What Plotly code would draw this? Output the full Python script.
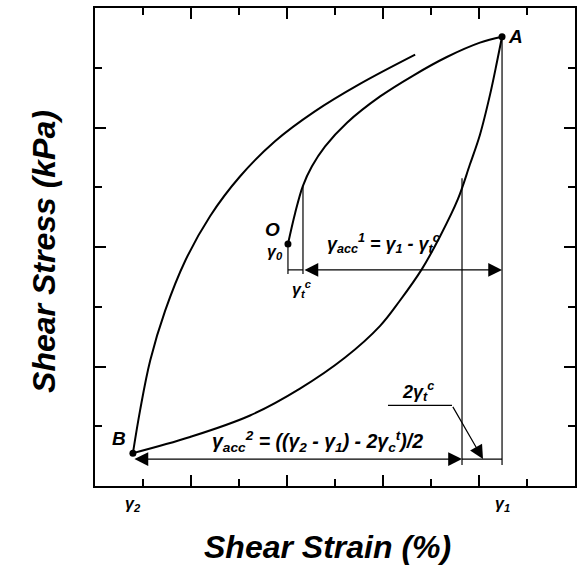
import plotly.graph_objects as go

# Loading branch from the initial state O up to the reversal point A
virgin_x = [4.02, 4.17, 4.33, 4.52, 4.79, 5.25, 5.94, 6.63, 7.33, 8.02, 8.48]
virgin_y = [4.05, 4.57, 5.02, 5.35, 5.68, 6.08, 6.52, 6.87, 7.18, 7.42, 7.52]

# Unloading branch from A down to B
unload_x = [8.48, 8.375, 8.23, 8.02, 7.81, 7.56, 7.19, 6.81, 6.35, 5.94, 5.21, 4.27, 3.23, 1.98, 0.79]
unload_y = [7.52, 7.10, 6.55, 5.88, 5.38, 4.80, 4.18, 3.63, 3.10, 2.68, 2.15, 1.63, 1.18, 0.82, 0.55]

# Reloading branch from B
reload_x = [0.79, 0.94, 1.15, 1.46, 1.88, 2.40, 3.02, 3.75, 4.58, 5.52, 6.67]
reload_y = [0.55, 1.27, 2.10, 2.93, 3.77, 4.52, 5.18, 5.77, 6.27, 6.73, 7.22]

# Named states
point_names = ["A", "O", "B"]
point_x = [8.48, 4.02, 0.79]
point_y = [7.52, 4.05, 0.55]

# Strain markers
gamma_tc = 4.333          # gamma_t^c
gamma_mid = 7.646         # gamma_1 - 2 gamma_t^c
arrow1_y = 3.617
arrow2_y = 0.45

strain_tick_text = ["γ<sub>2</sub>", "γ<sub>1</sub>"]
strain_tick_x = [point_x[2], point_x[0]]

FONT = "Liberation Sans, Arial, sans-serif"

fig = go.Figure()

curve = dict(color="black", width=2, shape="spline", smoothing=1.0)
for xs, ys in [(virgin_x, virgin_y), (unload_x, unload_y), (reload_x, reload_y)]:
    fig.add_trace(go.Scatter(x=xs, y=ys, mode="lines", line=curve,
                             hoverinfo="skip", showlegend=False))

# Construction lines
thin = dict(color="black", width=1.2)
segments = [
    ([point_x[0], point_x[0]], [point_y[0], 0.35]),
    ([gamma_mid, gamma_mid], [5.15, 0.35]),
    ([gamma_tc, gamma_tc], [5.02, 3.55]),
    ([point_x[1], point_x[1]], [point_y[1], 3.55]),
    ([point_x[1], gamma_tc], [arrow1_y, arrow1_y]),
    ([gamma_mid, point_x[0]], [arrow2_y, arrow2_y]),
    ([6.104, 7.4375], [1.35, 1.35]),
]
for xs, ys in segments:
    fig.add_trace(go.Scatter(x=xs, y=ys, mode="lines", line=thin,
                             hoverinfo="skip", showlegend=False))

fig.add_trace(go.Scatter(x=point_x, y=point_y, mode="markers",
                         marker=dict(color="black", size=7),
                         hoverinfo="skip", showlegend=False))

arrow_common = dict(xref="x", yref="y", axref="x", ayref="y", text="",
                    showarrow=True, arrowhead=2, arrowsize=2.3, arrowwidth=1.2,
                    arrowcolor="black", startarrowhead=2, startarrowsize=2.3,
                    standoff=0, startstandoff=0)
# gamma_acc^1 dimension arrow
fig.add_annotation(x=point_x[0], y=arrow1_y, ax=gamma_tc, ay=arrow1_y,
                   arrowside="end+start", **arrow_common)
# gamma_acc^2 dimension arrow
fig.add_annotation(x=gamma_mid, y=arrow2_y, ax=point_x[2], ay=arrow2_y,
                   arrowside="end+start", **arrow_common)
# leader for 2 gamma_t^c
fig.add_annotation(x=8.083, y=arrow2_y, ax=7.4375, ay=1.35,
                   arrowside="end", **arrow_common)

label_font = dict(family=FONT, color="black", weight="bold", style="italic")


def label(x, y, text, size):
    fig.add_annotation(x=x, y=y, xref="x", yref="y", text=text, showarrow=False,
                       xanchor="center", yanchor="middle",
                       font=dict(size=size, **label_font))


label(8.77, 7.52, "A", 19)
label(3.69, 4.30, "O", 19)
label(0.50, 0.80, "B", 19)
label(3.75, 3.90, "γ<sub>0</sub>", 16)
label(4.31, 3.30, "γ<sub>t</sub><sup>c</sup>", 16)
label(6.00, 4.06, "γ<sub>acc</sub><sup>1</sup> = γ<sub>1</sub> - γ<sub>t</sub><sup>c</sup>", 18)
label(4.64, 0.74, "γ<sub>acc</sub><sup>2</sup> = ((γ<sub>2</sub> - γ<sub>1</sub>) - 2γ<sub>c</sub><sup>t</sup>)/2", 19.5)
label(6.73, 1.58, "2γ<sub>t</sub><sup>c</sup>", 18)

for tx, tt in zip(strain_tick_x, strain_tick_text):
    fig.add_annotation(x=tx, y=0, xref="x", yref="paper", yanchor="top", yshift=-7,
                       text=tt, showarrow=False, font=dict(size=16, **label_font))

# Axis titles
fig.add_annotation(x=0.485, y=-0.127, xref="paper", yref="paper",
                   xanchor="center", yanchor="middle",
                   text="Shear Strain (%)", showarrow=False,
                   font=dict(size=32, **label_font))
fig.add_annotation(x=-0.106, y=0.49, xref="paper", yref="paper", textangle=-90,
                   xanchor="center", yanchor="middle",
                   text="Shear Stress (kPa)", showarrow=False,
                   font=dict(size=32, **label_font))

axis_common = dict(showgrid=False, zeroline=False, showticklabels=False,
                   showline=True, linecolor="black", linewidth=1.5, mirror="allticks",
                   ticks="inside", ticklen=11, tickwidth=1.5, tickcolor="black",
                   minor=dict(ticks="inside", ticklen=7, tickwidth=1.5,
                              tickcolor="black", dtick=1, tick0=0))
fig.update_xaxes(range=[0, 10], dtick=2, tick0=0, **axis_common)
fig.update_yaxes(range=[0, 8], dtick=2, tick0=0, **axis_common)

fig.update_layout(width=585, height=573, margin=dict(l=95, r=10, t=6, b=87),
                  plot_bgcolor="white", paper_bgcolor="white",
                  font=dict(family=FONT, color="black"))

fig.write_html("out.html")
